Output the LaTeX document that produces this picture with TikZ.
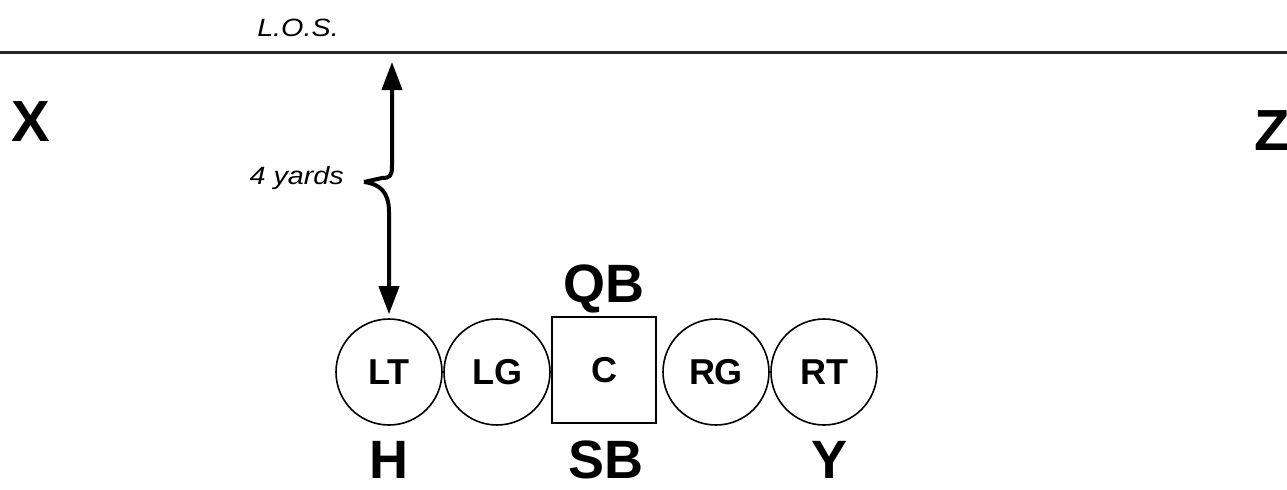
\documentclass[tikz,border=0pt]{standalone}
\usepackage{fontspec}
\setmainfont{Liberation Sans}
\usetikzlibrary{arrows.meta}
\begin{document}
\begin{tikzpicture}[x=0.5pt, y=-0.5pt, lineman/.style = {draw, circle, line width=0.8pt, minimum size=53pt, inner sep=0pt, font=\fontsize{18}{18}\selectfont\bfseries}, snapbox/.style = {draw, rectangle, line width=0.8pt, minimum width=52pt, minimum height=53pt, inner sep=0pt, font=\fontsize{18}{18}\selectfont\bfseries}, player/.style = {font=\fontsize{27}{27}\selectfont\bfseries}, wideout/.style = {font=\fontsize{29}{29}\selectfont\bfseries}, note/.style = {font=\fontsize{12.5}{12.5}\selectfont\itshape, xscale=1.15}, yardage/.style = {line width=2pt, line join=round, -{Triangle[width=10pt, length=14pt]}}]

    % 1. Field and line of scrimmage
    \useasboundingbox (0,0) rectangle (1287,489);
    \draw[line width=1.5pt, black!85] (0,52) -- (1287,52);
    \node[note] (lostext) at (298,28) {L.O.S.};
    \node[wideout] (X) at (31,122) {X};
    \node[wideout] (Z) at (1272,131) {Z};

    % 2. Offensive line
    \node[lineman] (LT) at (389,372) {LT};
    \node[lineman] (LG) at (497,372) {LG};
    \node[snapbox] (C) at (604,370) {C};
    \node[lineman] (RG) at (716,372) {RG};
    \node[lineman] (RT) at (824,372) {RT};

    % 3. Backs and tight end
    \node[player] (QB) at (604,289) {QB};
    \node[player] (SB) at (606,460) {SB};
    \node[player] (H) at (389,460) {H};
    \node[player] (Y) at (830,460) {Y};

    % 4. Depth marker
    \coordinate (kink) at (364,182);
    \coordinate (los) at (392,62);
    \node[note, anchor=east] (yards) at (352,178) {4 yards};
    \draw[yardage] (kink) -- (382,178) .. controls (390,178) and (392,176) .. (392,166) -- (los);
    \draw[yardage, shorten >=2pt] (kink) .. controls (380,184) and (389,192) .. (389,212) -- (LT.north);
\end{tikzpicture}
\end{document}
